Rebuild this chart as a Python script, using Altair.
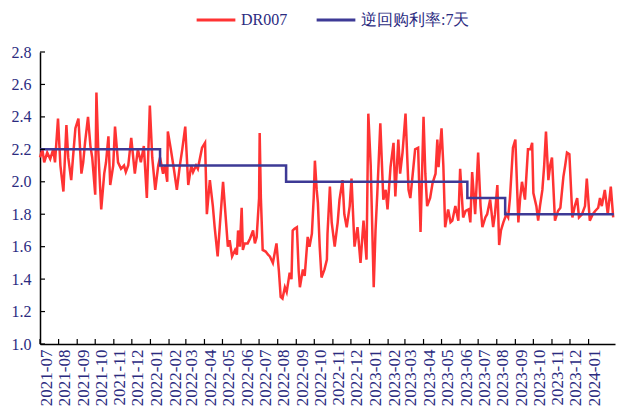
import altair as alt
import pandas as pd

# ---------------- data ----------------
start_date = "2021-07-01"

# DR007: day offsets from start_date and values (%)
dr_days = [0, 4, 7, 12, 17, 22, 25, 30, 34, 39, 44, 47, 52, 55, 59, 64, 69, 72, 75, 80,
           84, 87, 92, 94, 97, 102, 107, 110, 114, 117, 122, 125, 130, 135, 140, 143, 147, 152, 158, 163,
           168, 173, 178, 183, 187, 192, 197, 200, 205, 208, 212, 213, 218, 223, 228, 233, 237, 242, 247, 252,
           255, 260, 263, 270, 275, 278, 283, 288, 291, 296, 300, 305, 308, 313, 316, 320, 325, 328, 330, 333,
           336, 338, 341, 346, 350, 355, 358, 361, 365, 366, 368, 371, 376, 380, 383, 388, 391, 394, 398, 401,
           404, 408, 411, 416, 419, 421, 424, 428, 431, 433, 438, 441, 446, 449, 453, 456, 458, 461, 463, 466,
           469, 474, 478, 479, 483, 486, 491, 496, 499, 504, 507, 511, 516, 519, 524, 529, 534, 539, 544, 547,
           551, 556, 559, 562, 567, 572, 576, 579, 584, 589, 592, 597, 600, 604, 609, 614, 617, 620, 625, 630,
           634, 639, 642, 645, 650, 654, 659, 662, 664, 669, 672, 675, 680, 684, 687, 692, 697, 700, 705, 709,
           714, 717, 720, 725, 730, 734, 737, 742, 745, 750, 755, 758, 762, 765, 768, 772, 777, 780, 783, 788,
           792, 797, 800, 803, 808, 813, 817, 820, 822, 827, 830, 833, 837, 840, 843, 847, 850, 853, 858, 863,
           867, 872, 875, 878, 882, 887, 891, 895, 898, 903, 908, 911, 916, 921, 925, 930, 933, 936, 941, 946,
           951, 955]
dr_values = [2.15, 2.20, 2.12, 2.18, 2.14, 2.20, 2.12, 2.39, 2.10, 1.94, 2.35, 2.15, 2.01, 2.15, 2.33, 2.39, 2.05, 2.12, 2.24, 2.40,
             2.22, 2.15, 1.92, 2.55, 2.20, 1.83, 2.05, 2.12, 2.28, 1.98, 2.10, 2.34, 2.12, 2.08, 2.10, 2.06, 2.10, 2.27, 2.05, 2.20,
             2.12, 2.22, 1.90, 2.47, 2.15, 1.95, 2.10, 2.15, 2.05, 2.10, 2.00, 2.31, 2.20, 2.08, 1.95, 2.10, 2.20, 2.34, 1.98, 2.10,
             2.06, 2.10, 2.08, 2.21, 2.24, 1.80, 2.01, 1.85, 1.72, 1.54, 1.75, 2.00, 1.85, 1.60, 1.64, 1.54, 1.58, 1.55, 1.70, 1.60,
             1.84, 1.58, 1.62, 1.62, 1.65, 1.70, 1.62, 1.66, 1.90, 2.30, 1.90, 1.58, 1.57, 1.55, 1.54, 1.50, 1.56, 1.62, 1.45, 1.29,
             1.28, 1.35, 1.32, 1.44, 1.40, 1.70, 1.71, 1.72, 1.45, 1.35, 1.46, 1.42, 1.66, 1.60, 1.68, 1.90, 2.13, 1.95, 1.87, 1.60,
             1.41, 1.46, 1.52, 1.68, 1.97, 1.75, 1.60, 1.75, 1.89, 2.01, 1.80, 1.72, 1.85, 2.02, 1.60, 1.72, 1.50, 1.76, 1.52, 2.42,
             2.10, 1.35, 1.70, 1.93, 2.36, 1.89, 1.95, 1.83, 2.09, 2.24, 1.91, 2.26, 2.05, 2.18, 2.42, 1.95, 1.90, 2.01, 2.20, 2.21,
             1.69, 2.40, 2.05, 1.85, 1.90, 1.99, 2.05, 2.26, 2.09, 2.33, 2.10, 1.72, 1.83, 1.75, 1.76, 1.85, 1.76, 2.08, 1.78, 1.82,
             1.83, 1.75, 2.06, 1.80, 2.18, 1.85, 1.72, 1.78, 1.80, 1.89, 1.72, 1.80, 1.98, 1.61, 1.70, 1.75, 1.80, 1.78, 1.90, 2.21,
             2.26, 1.75, 1.90, 2.00, 1.89, 2.20, 2.20, 2.24, 1.93, 1.85, 1.76, 1.85, 1.95, 2.10, 2.31, 2.01, 2.10, 2.15, 1.76, 1.82,
             1.84, 2.03, 2.10, 2.18, 2.17, 1.78, 1.85, 1.90, 1.78, 1.80, 1.85, 2.02, 1.76, 1.80, 1.82, 1.84, 1.90, 1.85, 1.95, 1.80,
             1.97, 1.78]

# 7-day reverse repo rate (step changes)
rr_dates = ["2021-07-01", "2022-01-17", "2022-08-15", "2023-06-13", "2023-08-15", "2024-02-12"]
rr_values = [2.20, 2.10, 2.00, 1.90, 1.80, 1.80]

series_names = ["DR007", "逆回购利率:7天"]
series_colors = ["#FF3333", "#3D3A96"]

y_ticks = [1.0, 1.2, 1.4, 1.6, 1.8, 2.0, 2.2, 2.4, 2.6, 2.8]
month_labels = [d.strftime("%Y-%m") for d in pd.date_range("2021-07-01", "2024-01-01", freq="MS")]

# ---------------- frames ----------------
base = pd.Timestamp(start_date)
dr_df = pd.DataFrame({
    "date": [base + pd.Timedelta(days=d) for d in dr_days],
    "value": dr_values,
    "series": series_names[0],
})
rr_df = pd.DataFrame({
    "date": pd.to_datetime(rr_dates),
    "value": rr_values,
    "series": series_names[1],
})
xt_df = pd.DataFrame({"date": pd.to_datetime([m + "-01" for m in month_labels])})
yt_df = pd.DataFrame({"value": y_ticks})

month_values = [alt.DateTime(year=int(m[:4]), month=int(m[5:]), date=1) for m in month_labels]

W, H = 575, 292
SERIF = "Liberation Serif"
NAVY = "#2B2B7F"

xscale = alt.Scale(domain=[alt.DateTime(year=2021, month=7, date=1),
                           alt.DateTime(year=2024, month=2, date=14)])
yscale = alt.Scale(domain=[1.0, 2.8], nice=False, zero=False)

color = alt.Color("series:N",
                  scale=alt.Scale(domain=series_names, range=series_colors),
                  legend=alt.Legend(title=None, orient="none", legendX=155, legendY=-53,
                                    direction="horizontal"))

xaxis = alt.Axis(title=None, format="%Y-%m", labelAngle=270,
                 values=month_values,
                 labelOverlap=False, labelFlush=False, labelBound=False,
                 labelOffset=6, labelPadding=5, tickSize=0, grid=False,
                 domainColor="black", domainWidth=1.5,
                 labelFont=SERIF, labelFontSize=17, labelColor=NAVY)
yaxis = alt.Axis(title=None, values=y_ticks, format=".1f", tickSize=0, grid=False,
                 labelOverlap=False, labelFlush=False,
                 labelPadding=9, domainColor="black", domainWidth=1.5,
                 labelFont=SERIF, labelFontSize=16, labelColor=NAVY)

X = alt.X("date:T", scale=xscale, axis=xaxis)
Y = alt.Y("value:Q", scale=yscale, axis=yaxis)

red = alt.Chart(dr_df).mark_line(strokeWidth=2.5).encode(x=X, y=Y, color=color)
blue = alt.Chart(rr_df).mark_line(strokeWidth=2.5, interpolate="step-after").encode(
    x=X, y=Y, color=color)
xt = alt.Chart(xt_df).mark_rule(color="black", strokeWidth=1.2).encode(
    x=X,
    y=alt.value(H - 5),
    y2=alt.value(H),
)
yt = alt.Chart(yt_df).mark_rule(color="black", strokeWidth=1.2).encode(
    y=Y,
    x=alt.value(0),
    x2=alt.value(5),
)

chart = alt.layer(red, blue, xt, yt).properties(
    width=W, height=H,
    autosize=alt.AutoSizeParams(type="none"),
    padding={"left": 32, "top": 44, "right": 10, "bottom": 66},
).configure_view(stroke=None).configure_axis(
    labelOverlap=False,
).configure_legend(
    labelFont=SERIF, labelFontSize=16, labelColor=NAVY,
    symbolType="stroke", symbolStrokeWidth=3, symbolSize=1500,
    labelOffset=4, columnPadding=22, padding=0,
)

chart.save("out.html", embed_options={"renderer": "svg", "actions": False})
